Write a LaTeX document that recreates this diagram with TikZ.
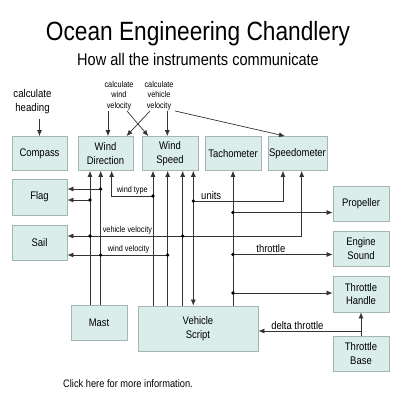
\documentclass[tikz,border=0pt]{standalone}
\usepackage{fontspec}
\setmainfont{Liberation Sans}[FakeStretch=0.86]
\usetikzlibrary{arrows.meta}
\definecolor{boxfill}{HTML}{DAEDEB}
\definecolor{boxline}{HTML}{A3B6B4}
\definecolor{wirecol}{HTML}{333333}
\tikzset{
  inst/.style={draw=boxline,fill=boxfill,line width=0.8pt,minimum width=56pt,
    minimum height=34pt,align=center,inner sep=1pt,
    font=\fontsize{11}{13.6}\selectfont},
  wire/.style={draw=wirecol,line width=0.7pt},
  arr/.style={wire,-{Latex[length=6pt,width=5pt]}},
  darr/.style={wire,{Latex[length=6pt,width=5pt]}-{Latex[length=6pt,width=5pt]}},
  jn/.style={circle,fill=black,inner sep=0pt,minimum size=3.6pt},
  small/.style={font=\fontsize{8.5}{10.3}\selectfont,align=center,inner sep=1pt},
  lbl/.style={above,inner sep=1.5pt,font=\fontsize{8.5}{10}\selectfont},
  biglbl/.style={above,inner sep=1.5pt,font=\fontsize{11}{13}\selectfont},
}
\begin{document}
\begin{tikzpicture}[x=1pt,y=-1pt]
\useasboundingbox (0,0) rectangle (400,400);
% titles
\node (title) at (198,34) {\fontsize{26.4}{30}\selectfont Ocean Engineering Chandlery};
\node (sub) at (198,59) {\fontsize{16.9}{20}\selectfont How all the instruments communicate};
% instruments
\node[inst,minimum width=55pt] (compass) at (39.5,153.5) {Compass};
\node[inst,minimum width=55pt] (wdir) at (105.5,153.5) {Wind\\Direction};
\node[inst] (wspd) at (170,153.5) {Wind\\Speed};
\node[inst] (tacho) at (233,153.5) {Tachometer};
\node[inst,minimum width=59pt] (speedo) at (297.5,153.5) {Speedometer};
\node[inst,minimum width=55pt,minimum height=36pt] (flag) at (39.5,197) {Flag};
\node[inst,minimum width=55pt,minimum height=35pt] (sail) at (39.5,242.5) {Sail};
\node[inst,minimum height=35pt] (prop) at (361,203.5) {Propeller};
\node[inst,minimum height=35pt] (engine) at (361,248.5) {Engine\\Sound};
\node[inst,minimum height=36pt] (thandle) at (361,294) {Throttle\\Handle};
\node[inst,minimum height=35pt] (tbase) at (361,353.5) {Throttle\\Base};
\node[inst,minimum height=35pt] (mast) at (99,322.5) {Mast};
\node[inst,minimum width=120pt,minimum height=45pt] (vscript) at (198,328.5) {Vehicle\\Script};
% notes on top
\node[align=center,inner sep=1pt,font=\fontsize{11.2}{13.4}\selectfont] (chead) at (32.5,101.5) {calculate\\heading};
\node[small] (cwv) at (119,95.5) {calculate\\wind\\velocity};
\node[small] (cvv) at (159,95.5) {calculate\\vehicle\\velocity};
\node (more) at (128,384) {\fontsize{10.8}{13}\selectfont Click here for more information.};
\draw[arr] (chead.south -| compass.north) ++(0,4) -- (compass.north);
\draw[arr] ([xshift=-11pt]cwv.south) -- ([xshift=-11pt]cwv.south |- wdir.north);
\draw[arr] ([xshift=8pt]cwv.south) -- ([xshift=-21.7pt]wspd.north);
\draw[arr] ([xshift=-9pt]cvv.south) -- ([xshift=21pt]wdir.north);
\draw[arr] ([xshift=8.3pt]cvv.south) -- ([xshift=8.3pt]cvv.south |- wspd.north);
\draw[arr] ([xshift=16pt]cvv.south) -- ([xshift=-12.5pt]speedo.north);
% bus lines
\coordinate (mA) at (90,0);
\coordinate (mB) at (100.7,0);
\coordinate (wt) at (111.7,0);
\coordinate (sA) at (153,0);
\coordinate (sB) at (167.7,0);
\coordinate (sC) at (182.7,0);
\coordinate (sD) at (193.3,0);
\coordinate (tc) at (233,0);
\coordinate (un) at (283,0);
\coordinate (vv) at (301.7,0);
% rows
\coordinate (rfa) at (0,189);
\coordinate (rfb) at (0,200);
\coordinate (rwt) at (0,196);
\coordinate (run) at (0,201);
\coordinate (rpr) at (0,212.5);
\coordinate (rvv) at (0,236);
\coordinate (reng) at (0,254.5);
\coordinate (rwv) at (0,255);
\coordinate (rth) at (0,293);
\coordinate (rdt) at (0,331);
\draw[arr] (mA |- mast.north) -- (mA |- wdir.south);
\draw[arr] (mB |- mast.north) -- (mB |- wdir.south);
\draw[arr] (sA |- vscript.north) -- (sA |- wspd.south);
\draw[arr] (sB |- vscript.north) -- (sB |- wspd.south);
\draw[arr] (sC |- vscript.north) -- (sC |- wspd.south);
\draw[darr] (sD |- vscript.north) -- (sD |- wspd.south);
\draw[arr] (tc |- vscript.north) -- (tc |- tacho.south);
% branches
\draw[arr] (mB |- rfa) node[jn]{} -- (flag.east |- rfa);
\draw[arr] (mA |- rfb) node[jn]{} -- (flag.east |- rfb);
\draw[arr] (sA |- rwt) node[jn]{} -- node[lbl]{wind type} (wt |- rwt) -- (wt |- wdir.south);
\draw[arr] (sD |- run) node[jn]{} -- node[pos=0.2,biglbl]{units} (un |- run) -- (un |- speedo.south);
\draw[darr] (sail.east |- rvv) -- node[pos=0.256,lbl]{vehicle velocity} (vv |- rvv) -- (vv |- speedo.south);
\node[jn] at (mA |- rvv) {};
\node[jn] at (sC |- rvv) {};
\draw[arr] (sB |- rwv) node[jn]{} -- node[pos=0.39,lbl]{wind velocity} (sail.east |- rwv);
\node[jn] at (mB |- rwv) {};
\draw[arr] (tc |- rpr) node[jn]{} -- (prop.west |- rpr);
\draw[arr] (tc |- reng) node[jn]{} -- node[pos=0.38,biglbl]{throttle} (engine.west |- reng);
\draw[arr] (tc |- rth) node[jn]{} -- (thandle.west |- rth);
\draw[arr] (tbase.north) -- (thandle.south);
\draw[arr] (tbase.north |- rdt) -- node[pos=0.62,biglbl]{delta throttle} (vscript.east |- rdt);
\end{tikzpicture}
\end{document}
